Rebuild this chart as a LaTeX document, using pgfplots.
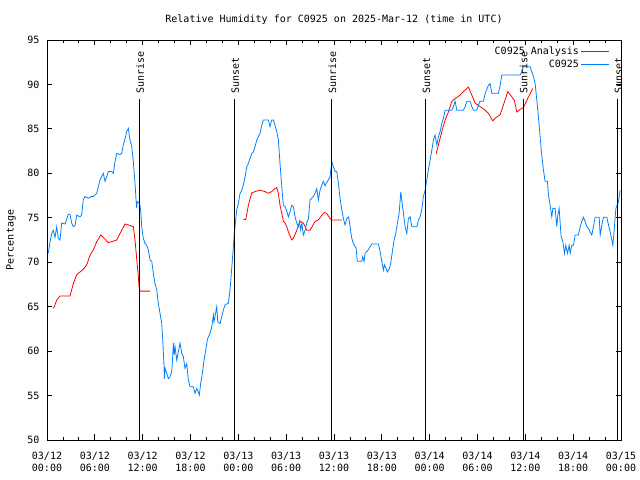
\documentclass[border=0pt]{standalone}
\usepackage{pgfplots}
\pgfplotsset{compat=1.18}
\usepackage{fontspec}
\setmainfont{DejaVu Sans Mono}
\definecolor{obsblue}{RGB}{0,128,255}
\begin{document}
\begin{tikzpicture}[font=\fontsize{10bp}{12bp}\selectfont]
\begin{axis}[
  scale only axis, width=574bp, height=400bp,
  xmin=0, xmax=72, ymin=50, ymax=95,
  clip=false,
  axis line style={black, line width=0.8bp},
  every tick/.style={black, line width=0.8bp},
  tick align=inside,
  major tick length=5.5bp, minor tick length=2.75bp,
  xtick={0,6,...,72},
  xticklabels={03/12\\00:00,03/12\\06:00,03/12\\12:00,03/12\\18:00,03/13\\00:00,03/13\\06:00,03/13\\12:00,03/13\\18:00,03/14\\00:00,03/14\\06:00,03/14\\12:00,03/14\\18:00,03/15\\00:00},
  minor x tick num=2,
  ytick={50,55,...,95},
  xticklabel style={align=center, yshift=-9bp, font=\fontsize{10bp}{12bp}\selectfont},
  yticklabel style={xshift=-4bp, font=\fontsize{10bp}{12bp}\selectfont},
  /pgf/number format/assume math mode=true,
  title={Relative Humidity for C0925 on 2025-Mar-12 (time in UTC)},
  title style={at={(axis description cs:0.5,1.036)}, anchor=center, inner sep=0pt},
  ylabel={Percentage},
  ylabel style={at={(axis description cs:-0.0627,0.5)}, anchor=center, rotate=0, inner sep=0pt},
  legend plot pos=right,
  legend cell align=right,
  legend style={draw=none, fill=none, at={(axis description cs:1,1)}, anchor=north east, xshift=-8bp, yshift=-3bp, row sep=0bp, font=\fontsize{10bp}{12bp}\selectfont},
  legend image code/.code={\draw[#1] (4bp,0bp) -- (32bp,0bp);},
]
\addplot[red, line width=0.8bp, unbounded coords=jump] table {
x y
0.72 64.8
0.92 65.0
1.22 65.75
1.63 66.2
2.89 66.2
3.30 67.6
3.73 68.6
4.55 69.2
4.98 69.7
5.40 70.8
5.81 71.4
6.24 72.3
6.74 73.06
7.28 72.6
7.69 72.2
8.75 72.5
9.16 73.25
9.79 74.3
10.2 74.2
10.83 74.0
11.04 72.5
11.25 70.4
11.46 68.4
11.54 67.25
11.67 66.75
12.92 66.75
18 nan
24.63 74.8
24.93 74.8
25.26 76.4
25.68 77.8
26.10 77.95
26.73 78.1
27.35 77.95
27.77 77.75
28.19 77.95
28.61 78.3
28.82 78.4
29.02 77.75
29.23 76.4
29.45 75.5
29.65 74.6
29.86 74.4
30.08 74.0
30.28 73.4
30.70 72.5
30.90 72.7
31.33 73.6
31.74 74.6
32.16 74.4
32.58 73.6
33.0 73.6
33.63 74.6
34.04 74.75
34.47 75.3
34.79 75.6
35.09 75.5
35.51 74.9
35.72 74.75
36.98 74.75
42 nan
48.81 82.2
49.10 83.2
49.52 84.7
49.94 86.0
50.35 86.9
50.78 88.1
51.19 88.4
51.82 88.8
52.23 89.2
52.86 89.7
53.29 88.8
53.70 87.9
54.33 87.5
54.96 87.1
55.37 86.75
55.92 85.9
56.21 86.2
56.84 86.6
57.25 87.7
57.80 89.2
58.31 88.6
58.63 88.2
58.93 86.9
59.35 87.2
59.76 87.4
60.39 88.6
60.94 89.55
};
\addlegendentry{C0925 Analysis}
\addplot[obsblue, line width=0.8bp] table {
x y
0.16 71.0
0.38 72.3
0.59 73.2
0.79 73.6
1.0 72.8
1.22 74.0
1.42 72.7
1.63 72.5
1.84 74.4
2.26 74.3
2.67 75.4
2.89 75.4
3.10 74.4
3.30 74.0
3.51 74.1
3.73 75.3
4.14 75.1
4.35 75.3
4.55 77.0
4.77 77.4
5.18 77.2
5.61 77.4
5.81 77.4
6.24 77.75
6.44 78.5
6.65 79.25
7.06 80.0
7.28 79.1
7.49 79.6
7.69 80.2
8.12 80.2
8.32 80.0
8.53 81.3
8.75 82.25
9.16 82.1
9.37 82.25
9.57 83.2
9.79 83.9
10.0 84.7
10.2 85.05
10.41 83.75
10.63 83.0
10.83 81.3
11.04 78.9
11.17 77.0
11.25 76.1
11.33 76.8
11.46 76.8
11.58 76.6
11.67 76.4
11.76 75.7
11.88 74.0
12.08 72.7
12.30 72.1
12.51 71.9
12.71 71.4
12.92 70.25
13.14 70.1
13.34 68.75
13.55 67.6
13.76 66.9
13.96 65.4
14.18 64.25
14.39 63.1
14.52 61.25
14.68 58.25
14.72 56.9
14.81 58.06
15.02 57.5
15.22 56.9
15.43 57.1
15.65 57.7
15.77 59.4
15.85 60.9
15.97 59.6
16.06 60.5
16.27 59.0
16.47 59.9
16.69 60.9
16.90 59.75
17.10 59.4
17.31 58.06
17.53 58.6
17.73 56.75
17.94 56.0
18.36 56.0
18.57 55.25
18.78 55.8
18.98 55.4
19.11 55.06
19.28 56.4
19.49 57.5
19.70 59.0
19.91 60.1
20.11 61.25
20.24 61.6
20.45 62.0
20.67 62.75
20.87 64.06
20.95 63.3
21.29 65.0
21.42 63.3
21.71 63.1
21.92 63.9
22.12 64.6
22.33 65.2
22.75 65.4
22.96 66.9
23.17 69.3
23.38 71.75
23.50 73.25
23.63 74.4
23.80 75.9
24.00 76.6
24.22 77.75
24.43 78.1
24.63 78.7
24.84 79.6
25.06 80.75
25.26 81.1
25.68 82.25
25.88 82.4
26.10 83.0
26.31 83.75
26.51 84.1
26.73 84.5
26.94 85.4
27.14 86.0
27.77 86.0
27.98 85.25
28.19 86.0
28.39 86.0
28.61 85.4
28.82 84.7
29.02 83.75
29.23 81.1
29.45 78.5
29.65 76.4
29.86 76.25
30.08 75.7
30.28 75.1
30.49 75.7
30.70 76.4
30.90 76.25
31.12 75.1
31.33 74.4
31.53 74.0
31.66 74.6
31.83 73.6
31.96 74.4
32.16 73.06
32.37 73.6
32.58 74.4
32.79 74.9
33.0 77.0
33.21 77.2
33.41 77.4
33.63 77.75
33.84 78.3
34.04 77.0
34.25 78.1
34.47 78.7
34.67 79.1
34.88 78.6
35.09 79.0
35.29 79.25
35.51 79.6
35.72 81.3
35.92 80.75
36.14 80.2
36.35 80.2
36.55 78.9
36.76 77.2
36.98 75.9
37.18 74.9
37.39 74.2
37.60 74.9
37.80 75.1
37.93 74.6
38.11 73.4
38.23 72.7
38.43 72.1
38.77 71.6
38.93 70.1
39.49 70.1
39.61 70.6
39.77 70.1
39.90 71.0
40.31 71.4
40.74 72.05
41.57 72.05
41.78 71.2
41.99 70.1
42.20 69.1
42.33 69.7
42.53 69.3
42.70 68.9
42.95 69.3
43.12 69.9
43.32 71.2
43.54 72.5
43.75 73.25
43.95 74.4
44.17 75.5
44.38 77.9
44.50 77.0
44.71 75.5
44.92 74.0
45.13 73.25
45.33 74.9
45.55 75.1
45.76 74.0
46.39 74.0
46.59 74.75
46.80 75.1
47.01 75.9
47.21 77.4
47.43 78.1
47.64 79.25
47.84 80.4
48.06 81.5
48.27 82.6
48.47 83.75
48.68 84.3
48.90 83.2
49.10 84.1
49.31 84.7
49.52 85.6
49.72 86.2
49.94 87.1
50.78 87.1
50.98 87.5
51.19 88.1
51.41 87.1
52.23 87.1
52.45 87.5
52.66 88.1
53.07 88.1
53.29 87.5
53.49 87.1
53.91 87.1
54.12 87.7
54.33 88.1
54.74 88.1
54.96 89.0
55.37 89.9
55.58 90.1
55.80 89.0
56.62 89.0
56.84 89.9
57.05 91.06
59.35 91.06
59.56 91.4
59.76 92.0
60.60 92.0
60.81 91.4
61.02 90.9
61.23 90.1
61.44 88.25
61.64 86.4
61.86 84.1
62.07 81.9
62.27 80.4
62.48 79.1
62.77 79.1
62.90 77.6
63.11 76.4
63.32 75.1
63.45 76.06
63.74 76.06
63.95 74.0
64.08 75.3
64.24 76.06
64.37 74.4
64.49 72.9
64.71 72.3
64.91 71.0
65.08 71.9
65.28 71.0
65.50 71.9
65.62 71.0
65.83 71.9
66.04 71.9
66.25 73.06
66.66 73.06
66.88 74.0
67.09 74.6
67.29 75.06
67.50 74.6
67.72 74.0
67.92 73.8
68.13 73.4
68.34 73.06
68.54 74.0
68.76 75.06
69.26 75.06
69.39 73.06
69.60 74.2
69.80 75.06
70.22 75.06
70.43 74.2
70.64 73.4
70.85 72.5
70.98 71.9
71.14 73.6
71.36 76.06
71.68 76.8
71.89 78.1
};
\addlegendentry{C0925}
\addplot[black, line width=0.8bp, forget plot] coordinates {(11.58,50) (11.58,88.36)};
\addplot[black, line width=0.8bp, forget plot] coordinates {(23.5,50) (23.5,88.36)};
\addplot[black, line width=0.8bp, forget plot] coordinates {(35.7,50) (35.7,88.36)};
\addplot[black, line width=0.8bp, forget plot] coordinates {(47.5,50) (47.5,88.36)};
\addplot[black, line width=0.8bp, forget plot] coordinates {(59.7,50) (59.7,88.36)};
\addplot[black, line width=0.8bp, forget plot] coordinates {(71.6,50) (71.6,88.36)};
\node[rotate=90, anchor=west, inner sep=0pt] at (axis cs:11.68,89.0) {Sunrise};
\node[rotate=90, anchor=west, inner sep=0pt] at (axis cs:23.6,89.0) {Sunset};
\node[rotate=90, anchor=west, inner sep=0pt] at (axis cs:35.8,89.0) {Sunrise};
\node[rotate=90, anchor=west, inner sep=0pt] at (axis cs:47.6,89.0) {Sunset};
\node[rotate=90, anchor=west, inner sep=0pt] at (axis cs:59.8,89.0) {Sunrise};
\node[rotate=90, anchor=west, inner sep=0pt] at (axis cs:71.7,89.0) {Sunset};
\end{axis}
\pgfresetboundingbox
\path[use as bounding box] (-47bp,-40bp) rectangle (593bp,440bp);
\end{tikzpicture}
\end{document}
